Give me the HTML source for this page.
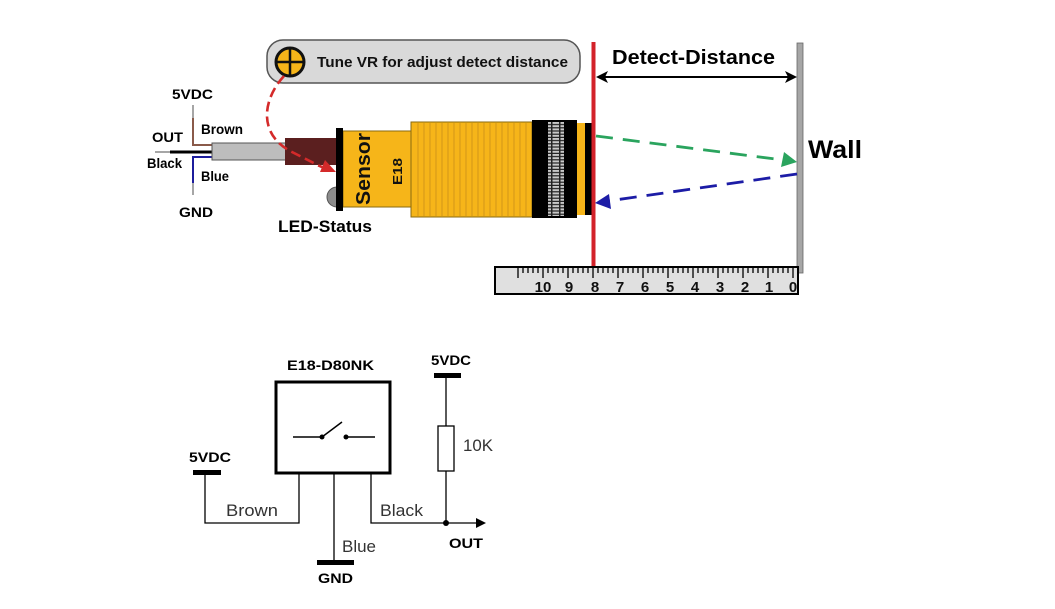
<!DOCTYPE html>
<html><head><meta charset="utf-8"><style>
html,body{margin:0;padding:0;background:#fff;}
svg{display:block;}
text{font-family:"Liberation Sans",sans-serif;}
</style></head><body>
<svg width="1055" height="609" viewBox="0 0 1055 609" xmlns="http://www.w3.org/2000/svg">
<defs>
<pattern id="nut" x="0" y="122" width="8" height="3.2" patternUnits="userSpaceOnUse">
<rect width="8" height="3.2" fill="#222"/>
<rect x="0.5" y="0" width="6.5" height="2" fill="#c8c8c8"/>
</pattern>
</defs>
<rect width="1055" height="609" fill="#fff"/>

<!-- Tune VR box -->
<rect x="267" y="40" width="313" height="43" rx="16" fill="#d9d9d9" stroke="#555" stroke-width="1.5"/>
<circle cx="290" cy="62" r="14" fill="#f6b519" stroke="#111" stroke-width="3"/>
<line x1="276" y1="62" x2="304" y2="62" stroke="#111" stroke-width="2.5"/>
<line x1="290" y1="48" x2="290" y2="76" stroke="#111" stroke-width="2.5"/>
<text x="317" y="67" font-size="15" font-weight="bold" fill="#111" textLength="251" lengthAdjust="spacingAndGlyphs">Tune VR for adjust detect distance</text>

<!-- Wires -->
<line x1="193" y1="105" x2="193" y2="118" stroke="#888" stroke-width="1.5"/>
<polyline points="193,118 193,145 212,145" fill="none" stroke="#8a5a4a" stroke-width="2"/>
<line x1="155" y1="152" x2="170" y2="152" stroke="#888" stroke-width="1.5"/>
<line x1="170" y1="152" x2="212" y2="152" stroke="#000" stroke-width="3"/>
<polyline points="212,157 193,157 193,183" fill="none" stroke="#1c1c9c" stroke-width="2"/>
<line x1="193" y1="183" x2="193" y2="195" stroke="#888" stroke-width="1.5"/>

<text x="172" y="99" font-size="14" font-weight="bold" textLength="41" lengthAdjust="spacingAndGlyphs">5VDC</text>
<text x="201" y="134" font-size="13.5" font-weight="bold" textLength="42" lengthAdjust="spacingAndGlyphs">Brown</text>
<text x="152" y="142" font-size="14" font-weight="bold" textLength="31" lengthAdjust="spacingAndGlyphs">OUT</text>
<text x="147" y="168" font-size="13.5" font-weight="bold" textLength="35" lengthAdjust="spacingAndGlyphs">Black</text>
<text x="201" y="181" font-size="13.5" font-weight="bold" textLength="28" lengthAdjust="spacingAndGlyphs">Blue</text>
<text x="179" y="217" font-size="14" font-weight="bold" textLength="34" lengthAdjust="spacingAndGlyphs">GND</text>

<!-- Cable -->
<rect x="212" y="143" width="74" height="17" fill="#bdbdbd" stroke="#555" stroke-width="1"/>
<rect x="285" y="138" width="51" height="27" fill="#5b1f1f"/>

<!-- LED dome -->
<circle cx="337" cy="197" r="10" fill="#8c8c8c" stroke="#555" stroke-width="1"/>

<!-- Sensor body -->
<rect x="343" y="131" width="69" height="76" fill="#f6b519" stroke="#8a6a10" stroke-width="1"/>
<rect x="411" y="122" width="121" height="95" fill="#f6b519" stroke="#8a6a10" stroke-width="1"/>
<g stroke="#d0921a" stroke-width="0.9">
<line x1="418" y1="123" x2="418" y2="216"/><line x1="424" y1="123" x2="424" y2="216"/><line x1="430" y1="123" x2="430" y2="216"/><line x1="436" y1="123" x2="436" y2="216"/><line x1="442" y1="123" x2="442" y2="216"/><line x1="448" y1="123" x2="448" y2="216"/><line x1="454" y1="123" x2="454" y2="216"/><line x1="460" y1="123" x2="460" y2="216"/><line x1="466" y1="123" x2="466" y2="216"/><line x1="472" y1="123" x2="472" y2="216"/><line x1="478" y1="123" x2="478" y2="216"/><line x1="484" y1="123" x2="484" y2="216"/><line x1="490" y1="123" x2="490" y2="216"/><line x1="496" y1="123" x2="496" y2="216"/><line x1="502" y1="123" x2="502" y2="216"/><line x1="508" y1="123" x2="508" y2="216"/><line x1="514" y1="123" x2="514" y2="216"/><line x1="520" y1="123" x2="520" y2="216"/><line x1="526" y1="123" x2="526" y2="216"/>
</g>
<rect x="532" y="120" width="45" height="98" fill="#000"/>
<rect x="548" y="122" width="16" height="94" fill="url(#nut)"/>
<rect x="577" y="123" width="8" height="92" fill="#f6b519"/>
<rect x="585" y="123" width="7" height="92" fill="#000"/>
<rect x="336" y="128" width="7" height="83" fill="#000"/>

<text transform="translate(370,205) rotate(-90)" font-size="20" font-weight="bold" fill="#111" textLength="72" lengthAdjust="spacingAndGlyphs">Sensor</text>
<text transform="translate(402,185) rotate(-90)" font-size="13" font-weight="bold" fill="#111" textLength="27" lengthAdjust="spacingAndGlyphs">E18</text>

<text x="278" y="232" font-size="17" font-weight="bold" textLength="94" lengthAdjust="spacingAndGlyphs">LED-Status</text>

<!-- red dashed curve -->
<path d="M284 76 C262 100, 258 135, 292 152 S 318 166, 328 169" fill="none" stroke="#d42a2a" stroke-width="2.6" stroke-dasharray="10 5"/>
<polygon points="336,172 320,172 325,160" fill="#d42a2a"/>

<!-- Red line -->
<rect x="591.5" y="42" width="4" height="226" fill="#d3222a"/>

<!-- Wall -->
<rect x="797" y="43" width="6" height="230" fill="#a6a6a6" stroke="#666" stroke-width="0.8"/>
<text x="808" y="158" font-size="25" font-weight="bold" textLength="54" lengthAdjust="spacingAndGlyphs">Wall</text>

<!-- Detect distance -->
<text x="612" y="64" font-size="20" font-weight="bold" textLength="163" lengthAdjust="spacingAndGlyphs">Detect-Distance</text>
<line x1="603" y1="77" x2="790" y2="77" stroke="#000" stroke-width="2"/>
<polygon points="596,77 608,71 605,77 608,83" fill="#000"/>
<polygon points="797,77 785,71 788,77 785,83" fill="#000"/>

<!-- green arrow -->
<line x1="596" y1="136" x2="783" y2="160" stroke="#2aa45e" stroke-width="2.8" stroke-dasharray="17 10"/>
<polygon points="797,162 781,167 784,152" fill="#2aa45e"/>
<!-- blue arrow -->
<line x1="797" y1="174" x2="608" y2="201" stroke="#1c1ca6" stroke-width="2.8" stroke-dasharray="17 10"/>
<polygon points="595,203 609,194 611,209" fill="#1c1ca6"/>

<!-- Ruler -->
<rect x="495" y="267" width="303" height="27" fill="#e0e0e0" stroke="#000" stroke-width="2"/>
<g stroke="#000" stroke-width="1.3">
<line x1="518" y1="268" x2="518" y2="278"/><line x1="523" y1="268" x2="523" y2="273"/><line x1="528" y1="268" x2="528" y2="273"/><line x1="533" y1="268" x2="533" y2="273"/><line x1="538" y1="268" x2="538" y2="273"/>
<line x1="543" y1="268" x2="543" y2="278"/><line x1="548" y1="268" x2="548" y2="273"/><line x1="553" y1="268" x2="553" y2="273"/><line x1="558" y1="268" x2="558" y2="273"/><line x1="563" y1="268" x2="563" y2="273"/>
<line x1="568" y1="268" x2="568" y2="278"/><line x1="573" y1="268" x2="573" y2="273"/><line x1="578" y1="268" x2="578" y2="273"/><line x1="583" y1="268" x2="583" y2="273"/><line x1="588" y1="268" x2="588" y2="273"/>
<line x1="593" y1="268" x2="593" y2="278"/><line x1="598" y1="268" x2="598" y2="273"/><line x1="603" y1="268" x2="603" y2="273"/><line x1="608" y1="268" x2="608" y2="273"/><line x1="613" y1="268" x2="613" y2="273"/>
<line x1="618" y1="268" x2="618" y2="278"/><line x1="623" y1="268" x2="623" y2="273"/><line x1="628" y1="268" x2="628" y2="273"/><line x1="633" y1="268" x2="633" y2="273"/><line x1="638" y1="268" x2="638" y2="273"/>
<line x1="643" y1="268" x2="643" y2="278"/><line x1="648" y1="268" x2="648" y2="273"/><line x1="653" y1="268" x2="653" y2="273"/><line x1="658" y1="268" x2="658" y2="273"/><line x1="663" y1="268" x2="663" y2="273"/>
<line x1="668" y1="268" x2="668" y2="278"/><line x1="673" y1="268" x2="673" y2="273"/><line x1="678" y1="268" x2="678" y2="273"/><line x1="683" y1="268" x2="683" y2="273"/><line x1="688" y1="268" x2="688" y2="273"/>
<line x1="693" y1="268" x2="693" y2="278"/><line x1="698" y1="268" x2="698" y2="273"/><line x1="703" y1="268" x2="703" y2="273"/><line x1="708" y1="268" x2="708" y2="273"/><line x1="713" y1="268" x2="713" y2="273"/>
<line x1="718" y1="268" x2="718" y2="278"/><line x1="723" y1="268" x2="723" y2="273"/><line x1="728" y1="268" x2="728" y2="273"/><line x1="733" y1="268" x2="733" y2="273"/><line x1="738" y1="268" x2="738" y2="273"/>
<line x1="743" y1="268" x2="743" y2="278"/><line x1="748" y1="268" x2="748" y2="273"/><line x1="753" y1="268" x2="753" y2="273"/><line x1="758" y1="268" x2="758" y2="273"/><line x1="763" y1="268" x2="763" y2="273"/>
<line x1="768" y1="268" x2="768" y2="278"/><line x1="773" y1="268" x2="773" y2="273"/><line x1="778" y1="268" x2="778" y2="273"/><line x1="783" y1="268" x2="783" y2="273"/><line x1="788" y1="268" x2="788" y2="273"/>
<line x1="793" y1="268" x2="793" y2="278"/>
</g>
<g font-size="15" font-weight="bold" text-anchor="middle" fill="#111">
<text x="543" y="292">10</text><text x="569" y="292">9</text><text x="595" y="292">8</text><text x="620" y="292">7</text><text x="645" y="292">6</text><text x="670" y="292">5</text><text x="695" y="292">4</text><text x="720" y="292">3</text><text x="745" y="292">2</text><text x="769" y="292">1</text><text x="793" y="292">0</text>
</g>

<!-- Schematic -->
<text x="287" y="370" font-size="14" font-weight="bold" textLength="87" lengthAdjust="spacingAndGlyphs">E18-D80NK</text>
<rect x="276" y="382" width="114" height="91" fill="none" stroke="#000" stroke-width="3"/>
<line x1="293" y1="437" x2="322" y2="437" stroke="#000" stroke-width="1.5"/>
<line x1="322" y1="437" x2="342" y2="422" stroke="#000" stroke-width="1.5"/>
<circle cx="322" cy="437" r="2.5" fill="#000"/>
<circle cx="346" cy="437" r="2.5" fill="#000"/>
<line x1="346" y1="437" x2="375" y2="437" stroke="#000" stroke-width="1.5"/>

<g stroke="#000" stroke-width="1.3" fill="none">
<polyline points="299,473 299,523 205,523 205,473"/>
<line x1="334" y1="473" x2="334" y2="562"/>
<polyline points="371,473 371,523 480,523"/>
<line x1="446" y1="375" x2="446" y2="426"/>
<line x1="446" y1="471" x2="446" y2="523"/>
<rect x="438" y="426" width="16" height="45" fill="#fff"/>
</g>
<polygon points="486,523 476,518 476,528" fill="#000"/>
<circle cx="446" cy="523" r="3" fill="#000"/>
<rect x="193" y="470" width="28" height="5" fill="#000"/>
<rect x="317" y="560" width="37" height="5" fill="#000"/>
<rect x="434" y="373" width="27" height="5" fill="#000"/>

<text x="189" y="462" font-size="14" font-weight="bold" textLength="42" lengthAdjust="spacingAndGlyphs">5VDC</text>
<text x="431" y="365" font-size="14" font-weight="bold" textLength="40" lengthAdjust="spacingAndGlyphs">5VDC</text>
<text x="226" y="516" font-size="17" fill="#333" textLength="52" lengthAdjust="spacingAndGlyphs">Brown</text>
<text x="380" y="516" font-size="17" fill="#333" textLength="43" lengthAdjust="spacingAndGlyphs">Black</text>
<text x="342" y="552" font-size="17" fill="#333" textLength="34" lengthAdjust="spacingAndGlyphs">Blue</text>
<text x="463" y="451" font-size="17" fill="#333" textLength="30" lengthAdjust="spacingAndGlyphs">10K</text>
<text x="318" y="583" font-size="14" font-weight="bold" textLength="35" lengthAdjust="spacingAndGlyphs">GND</text>
<text x="449" y="548" font-size="14" font-weight="bold" textLength="34" lengthAdjust="spacingAndGlyphs">OUT</text>
</svg>
</body></html>
